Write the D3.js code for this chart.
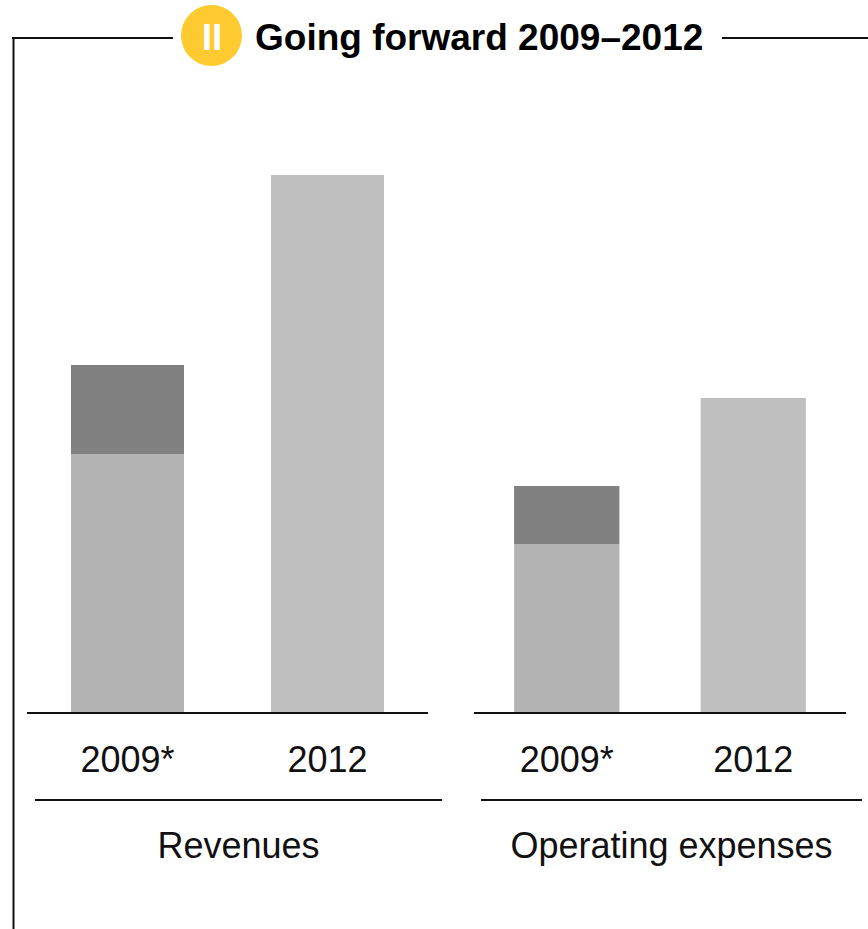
<!DOCTYPE html>
<html>
<head>
<meta charset="utf-8">
<script src="https://cdn.jsdelivr.net/npm/d3@7"></script>
<style>
  html, body { margin: 0; padding: 0; background: #fff; }
  svg { display: block; font-family: "Liberation Sans", Arial, Helvetica, sans-serif; }
</style>
</head>
<body>
<svg id="chart" width="868" height="929"></svg>
<script>
// Section heading
const badgeText = "II";
const titleText = "Going forward 2009–2012";

// Panels and their categories
const panels = ["Revenues", "Operating expenses"];
const years = ["2009*", "2012"];

// Bar values (index units); 2009 split into base and the extra block on top
const revenueBase = [259, 538];
const revenueExtra = [89, 0];
const opexBase = [169, 315];
const opexExtra = [58, 0];

const svg = d3.select("#chart");

const baseColor = { "2009*": "#b3b3b3", "2012": "#bfbfbf" };
const extraColor = "#808080";

// Shared value scale so both panels are comparable
const y = d3.scaleLinear().domain([0, 540]).range([713, 173]);

const panelDefs = [
  { name: panels[0], base: revenueBase, extra: revenueExtra,
    range: [27, 428], pi: 0.435, po: 0.22, groupLine: [35, 442] },
  { name: panels[1], base: opexBase, extra: opexExtra,
    range: [474, 846], pi: 0.4355, po: 0.215, groupLine: [481, 862] }
];

panelDefs.forEach(p => {
  const x = d3.scaleBand().domain(years).range(p.range)
    .paddingInner(p.pi).paddingOuter(p.po);

  const g = svg.append("g");
  const rows = years.map((yr, i) => ({ yr, base: p.base[i], extra: p.extra[i] }));

  // base blocks
  g.selectAll("rect.base").data(rows).join("rect")
    .attr("class", "base")
    .attr("x", d => x(d.yr))
    .attr("width", x.bandwidth())
    .attr("y", d => y(d.base))
    .attr("height", d => y(0) - y(d.base))
    .attr("fill", d => baseColor[d.yr]);

  // extra blocks stacked on top
  g.selectAll("rect.extra").data(rows.filter(d => d.extra > 0)).join("rect")
    .attr("class", "extra")
    .attr("x", d => x(d.yr))
    .attr("width", x.bandwidth())
    .attr("y", d => y(d.base + d.extra))
    .attr("height", d => y(d.base) - y(d.base + d.extra))
    .attr("fill", extraColor);

  // category axis
  const axis = g.append("g")
    .attr("transform", `translate(0,${y(0)})`)
    .call(d3.axisBottom(x).tickSize(0).tickPadding(33));
  axis.select(".domain").remove();
  axis.selectAll("text")
    .attr("font-size", 36)
    .attr("font-family", "\"Liberation Sans\", Arial, sans-serif")
    .attr("fill", "#111");

  // baseline
  g.append("line")
    .attr("x1", p.range[0]).attr("x2", p.range[1])
    .attr("y1", y(0)).attr("y2", y(0))
    .attr("stroke", "#111").attr("stroke-width", 2);

  // group separator and label
  g.append("line")
    .attr("x1", p.groupLine[0]).attr("x2", p.groupLine[1])
    .attr("y1", 800).attr("y2", 800)
    .attr("stroke", "#111").attr("stroke-width", 2);
  g.append("text")
    .attr("x", (p.groupLine[0] + p.groupLine[1]) / 2)
    .attr("y", 858)
    .attr("text-anchor", "middle")
    .attr("font-size", 36)
    .attr("fill", "#111")
    .text(p.name);
});

// Frame with heading
const frame = svg.append("g").attr("stroke", "#111").attr("stroke-width", 2);
frame.append("line").attr("x1", 12).attr("x2", 173).attr("y1", 38).attr("y2", 38);
frame.append("line").attr("x1", 722).attr("x2", 868).attr("y1", 38).attr("y2", 38);
frame.append("line").attr("x1", 13.5).attr("x2", 13.5).attr("y1", 37).attr("y2", 929);

svg.append("circle")
  .attr("cx", 211.5).attr("cy", 35.5).attr("r", 30.5)
  .attr("fill", "#fdca30");
svg.append("text")
  .attr("x", 212).attr("y", 50)
  .attr("text-anchor", "middle")
  .attr("font-size", 37).attr("font-weight", "bold")
  .attr("fill", "#fff")
  .text(badgeText);
svg.append("text")
  .attr("x", 255).attr("y", 50)
  .attr("font-size", 37).attr("font-weight", "bold")
  .attr("fill", "#000")
  .text(titleText);
</script>
</body>
</html>
